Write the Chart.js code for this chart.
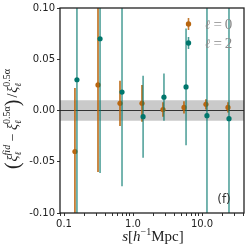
<!DOCTYPE html>
<html>
<head>
<meta charset="utf-8">
<script src="https://cdn.jsdelivr.net/npm/chart.js@4/dist/chart.umd.min.js"></script>
<style>
  html, body { margin: 0; padding: 0; background: #fff; }
  #wrap { width: 249px; height: 249px; }
</style>
</head>
<body>
<div id="wrap"><canvas id="c"></canvas></div>
<script>
'use strict';

// ── Data ──────────────────────────────────────────────────────────────────────

// ℓ = 0 (monopole)
const sL0   = [0.144, 0.311, 0.648, 1.35, 2.72, 5.48, 11.4, 23.8];
const yL0   = [-0.040, 0.025, 0.007, 0.007, 0.001, 0.003, 0.006, 0.003];
const errL0 = [0.062, 0.085, 0.022, 0.018, 0.007, 0.006, 0.005, 0.005];

// ℓ = 2 (quadrupole)
const sL2   = [0.154, 0.333, 0.693, 1.40, 2.81, 5.87, 11.8, 24.6];
const yL2   = [0.030, 0.070, 0.018, -0.006, 0.013, 0.023, -0.005, -0.008];
const errL2 = [0.140, 0.131, 0.092, 0.040, 0.023, 0.057, 0.150, 0.150];

const xRange = [0.0875, 40.6];
const xMajorTicks = { 0.1: '0.1', 1: '1.0', 10: '10.0' };
const yTicks = [-0.10, -0.05, 0.00, 0.05, 0.10];
const bandHalfWidth = 0.01;

const ORANGE = '#b8650f';
const ORANGE_BAR = 'rgba(184,101,15,0.85)';
const TEAL = '#00766c';
const TEAL_BAR = 'rgba(0,118,108,0.72)';

// ── Helpers ───────────────────────────────────────────────────────────────────

function points(xs, ys) {
  return xs.map((x, i) => ({ x, y: ys[i] }));
}

// vertical error bars as one broken line: lo → hi, gap, lo → hi, ...
function errorSegments(xs, ys, errs) {
  const out = [];
  xs.forEach((x, i) => {
    out.push({ x, y: ys[i] - errs[i] }, { x, y: ys[i] + errs[i] }, { x, y: null });
  });
  return out;
}

function barDataset(data, color, width, order) {
  return {
    data, borderColor: color, borderWidth: width, showLine: true, spanGaps: false,
    pointRadius: 0, pointHoverRadius: 0, clip: 0, order,
  };
}

function markerDataset(data, color, order) {
  return {
    data, showLine: false, pointRadius: 2.6, pointHoverRadius: 2.6,
    pointBackgroundColor: color, pointBorderColor: color, pointBorderWidth: 0, order,
  };
}

function minorLogTicks(min, max) {
  const ticks = [];
  for (let d = 0.01; d <= 100; d *= 10) {
    for (let k = 1; k <= 9; k++) {
      const v = +(k * d).toPrecision(3);
      if (v >= min && v <= max) ticks.push(v);
    }
  }
  return ticks;
}

// draw a row of text segments; each segment {t, font, dy, gap} or {stack: [...]}
function drawRich(ctx, segs, x0, y0, angle, align = 'center') {
  ctx.save();
  ctx.translate(x0, y0);
  ctx.rotate(angle);
  ctx.textBaseline = 'alphabetic';
  ctx.textAlign = 'left';
  const widths = segs.map(s => {
    if (s.stack) {
      return Math.max(...s.stack.map(p => { ctx.font = p.font; return ctx.measureText(p.t).width; }));
    }
    ctx.font = s.font;
    return ctx.measureText(s.t).width + (s.gap || 0);
  });
  const total = widths.reduce((a, b) => a + b, 0);
  let x = align === 'center' ? -total / 2 : 0;
  segs.forEach((s, i) => {
    if (s.stack) {
      s.stack.forEach(p => { ctx.font = p.font; ctx.fillText(p.t, x, p.dy); });
    } else {
      ctx.font = s.font;
      ctx.fillText(s.t, x, s.dy || 0);
    }
    x += widths[i];
  });
  ctx.restore();
}

// ── Decorations: frame, legend, labels ───────────────────────────────────────

const decorations = {
  id: 'decorations',
  afterDraw(chart) {
    const { ctx, chartArea: a } = chart;
    const serif = '"Liberation Serif", "DejaVu Serif", serif';
    ctx.save();

    ctx.strokeStyle = '#222';
    ctx.lineWidth = 1.3;
    ctx.strokeRect(a.left, a.top, a.right - a.left, a.bottom - a.top);

    // legend (errorbar handles + labels)
    const lx = a.left + 128.5;
    [[ORANGE, ORANGE_BAR, a.top + 16, 6, '0'], [TEAL, TEAL_BAR, a.top + 35, 6, '2']].forEach(([c, cb, y, h, n]) => {
      ctx.strokeStyle = cb;
      ctx.lineWidth = 1.6;
      ctx.beginPath();
      ctx.moveTo(lx, y - h);
      ctx.lineTo(lx, y + h);
      ctx.stroke();
      ctx.fillStyle = c;
      ctx.beginPath();
      ctx.arc(lx, y, 2.7, 0, Math.PI * 2);
      ctx.fill();
      ctx.fillStyle = '#8a8a8a';
      drawRich(ctx, [
        { t: 'ℓ', font: 'italic 13px "DejaVu Serif"', gap: 3 },
        { t: '=', font: `15px ${serif}`, gap: 3 },
        { t: n, font: `15px ${serif}` },
      ], a.left + 145, y + 5, 0, 'left');
    });

    // panel tag
    ctx.fillStyle = '#333';
    ctx.font = '12px "DejaVu Sans"';
    ctx.textAlign = 'center';
    ctx.textBaseline = 'middle';
    ctx.fillText('(f)', a.right - 20, a.bottom - 13);
    ctx.textAlign = 'left';

    // x title: s[h^-1 Mpc]
    ctx.fillStyle = '#222';
    drawRich(ctx, [
      { t: 's', font: `italic 15px ${serif}` },
      { t: '[', font: `15px ${serif}` },
      { t: 'h', font: `italic 15px ${serif}` },
      { t: '−1', font: `10px ${serif}`, dy: -6 },
      { t: 'Mpc]', font: `15px ${serif}` },
    ], (a.left + a.right) / 2 + 1, 241, 0);

    // y title: (ξ_ℓ^fid − ξ_ℓ^0.5α) / ξ_ℓ^0.5α
    const main = `14px ${serif}`;
    const ital = `italic 14px ${serif}`;
    const sup = `italic 10px ${serif}`;
    const supR = `10px ${serif}`;
    const xi = t => [
      { t: 'ξ', font: ital },
      { stack: [{ t, font: t === 'fid' ? sup : supR, dy: -7 }, { t: 'ℓ', font: 'italic 9px "DejaVu Serif"', dy: 4 }] },
    ];
    drawRich(ctx, [
      { t: '(', font: `20px ${serif}`, dy: 2, gap: 1 },
      ...xi('fid'),
      { t: ' − ', font: main },
      ...xi('0.5α'),
      { t: ')', font: `20px ${serif}`, dy: 2, gap: 2 },
      { t: '/', font: main, gap: 1 },
      ...xi('0.5α'),
    ], 17, 119, -Math.PI / 2);

    ctx.restore();
  },
};

// ── Chart ─────────────────────────────────────────────────────────────────────

new Chart(document.getElementById('c'), {
  type: 'scatter',
  data: {
    datasets: [
      // ±1% band
      {
        data: points(xRange, [bandHalfWidth, bandHalfWidth]),
        showLine: true, borderWidth: 0, pointRadius: 0, order: 9,
      },
      {
        data: points(xRange, [-bandHalfWidth, -bandHalfWidth]),
        showLine: true, borderWidth: 0, pointRadius: 0, order: 9,
        fill: '-1', backgroundColor: 'rgba(150,150,150,0.5)',
      },
      // zero line
      {
        data: points(xRange, [0, 0]),
        showLine: true, borderColor: '#333', borderWidth: 1.2, pointRadius: 0, order: 8,
      },
      barDataset(errorSegments(sL0, yL0, errL0), ORANGE_BAR, 1.8, 7),
      markerDataset(points(sL0, yL0), ORANGE, 6),
      barDataset(errorSegments(sL2, yL2, errL2), TEAL_BAR, 1.5, 5),
      markerDataset(points(sL2, yL2), TEAL, 4),
    ],
  },
  options: {
    responsive: true,
    maintainAspectRatio: false,
    animation: false,
    events: [],
    layout: { padding: { left: 0, right: 5, top: 7, bottom: 0 } },
    plugins: { legend: { display: false }, tooltip: { enabled: false } },
    scales: {
      x: {
        type: 'logarithmic',
        min: xRange[0],
        max: xRange[1],
        afterBuildTicks: s => { s.ticks = minorLogTicks(xRange[0], xRange[1]).map(v => ({ value: v })); },
        afterFit: s => { s.height = 36; },
        border: { display: false },
        grid: { drawOnChartArea: false, drawTicks: true, tickLength: 3, color: '#333' },
        ticks: {
          autoSkip: false, maxRotation: 0, padding: 2,
          color: '#222', font: { family: '"DejaVu Sans"', size: 10 },
          callback: v => xMajorTicks[v] || '',
        },
      },
      y: {
        min: yTicks[0],
        max: yTicks[yTicks.length - 1],
        afterBuildTicks: s => { s.ticks = yTicks.map(v => ({ value: v })); },
        afterFit: s => { s.width = 60; },
        border: { display: false },
        grid: { drawOnChartArea: false, drawTicks: true, tickLength: 3, color: '#333' },
        ticks: {
          padding: 2,
          color: '#222', font: { family: '"DejaVu Sans"', size: 10 },
          callback: v => v.toFixed(2),
        },
      },
    },
  },
  plugins: [decorations],
});
</script>
</body>
</html>
